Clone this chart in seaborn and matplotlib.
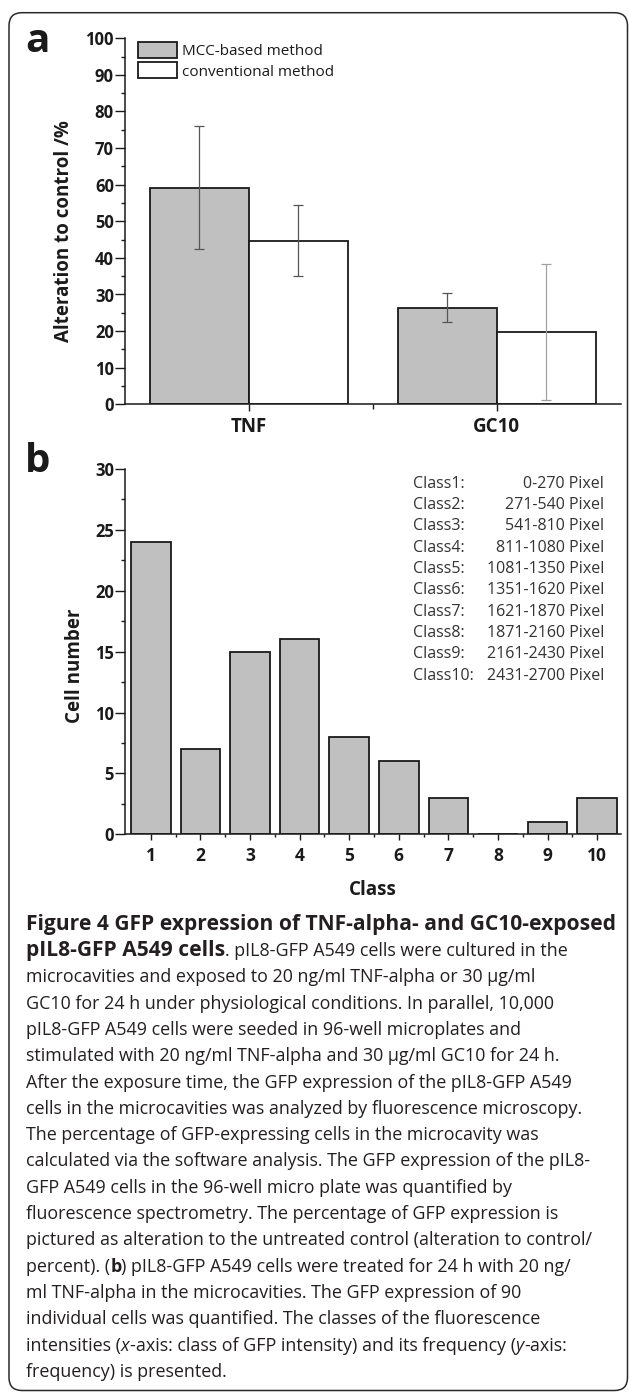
import matplotlib
matplotlib.use("Agg")
import matplotlib.pyplot as plt
from matplotlib.patches import FancyBboxPatch, Patch, Rectangle
from matplotlib.ticker import MultipleLocator, FixedLocator
import seaborn as sns
import pandas as pd

# Panel a: alteration to control (%)
treatments = ["TNF", "GC10"]
methods = ["MCC-based method", "conventional method"]
mcc_values = [59.2, 26.4]
mcc_errors = [16.8, 4.0]
conv_values = [44.7, 19.8]
conv_errors = [9.7, 18.5]

# Panel b: cell number per intensity class
classes = [1, 2, 3, 4, 5, 6, 7, 8, 9, 10]
cell_counts = [24, 7, 15, 16, 8, 6, 3, 0, 1, 3]
class_ranges = ["0-270", "271-540", "541-810", "811-1080", "1081-1350",
                "1351-1620", "1621-1870", "1871-2160", "2161-2430", "2431-2700"]

# Caption, line by line: (text, (weight, style, size))
N = ("normal", "normal", 12.9)
T = ("bold", "normal", 15.1)   # title in bold
B = ("bold", "normal", 12.9)   # inline bold
I = ("normal", "italic", 12.9)
caption_lines = [
    [("Figure 4 GFP expression of TNF-alpha- and GC10-exposed", T)],
    [("pIL8-GFP A549 cells", T), (". pIL8-GFP A549 cells were cultured in the", N)],
    [("microcavities and exposed to 20 ng/ml TNF-alpha or 30 \u00b5g/ml", N)],
    [("GC10 for 24 h under physiological conditions. In parallel, 10,000", N)],
    [("pIL8-GFP A549 cells were seeded in 96-well microplates and", N)],
    [("stimulated with 20 ng/ml TNF-alpha and 30 \u00b5g/ml GC10 for 24 h.", N)],
    [("After the exposure time, the GFP expression of the pIL8-GFP A549", N)],
    [("cells in the microcavities was analyzed by fluorescence microscopy.", N)],
    [("The percentage of GFP-expressing cells in the microcavity was", N)],
    [("calculated via the software analysis. The GFP expression of the pIL8-", N)],
    [("GFP A549 cells in the 96-well micro plate was quantified by", N)],
    [("fluorescence spectrometry. The percentage of GFP expression is", N)],
    [("pictured as alteration to the untreated control (alteration to control/", N)],
    [("percent). (", N), ("b", B), (") pIL8-GFP A549 cells were treated for 24 h with 20 ng/", N)],
    [("ml TNF-alpha in the microcavities. The GFP expression of 90", N)],
    [("individual cells was quantified. The classes of the fluorescence", N)],
    [("intensities (", N), ("x", I), ("-axis: class of GFP intensity) and its frequency (", N),
     ("y", I), ("-axis:", N)],
    [("frequency) is presented.", N)],
]

bar_colors = ["#c0c0c0", "#ffffff"]
err_colors = [["#555555", "#555555"], ["#555555", "#a0a0a0"]]
INK = "#1a1a1a"

sns.set_style("ticks")
plt.rcParams["font.family"] = ["Open Sans", "DejaVu Sans"]
plt.rcParams["text.color"] = INK
plt.rcParams["axes.edgecolor"] = INK
plt.rcParams["xtick.color"] = INK
plt.rcParams["ytick.color"] = INK

W, H = 629, 1392
fig = plt.figure(figsize=(W / 100, H / 100), dpi=100)


def fx(px):
    return px / W


def fy(py):
    return 1 - py / H


# outer rounded frame
frame = FancyBboxPatch((0.09, 0.015), 6.185, 13.778,
                       boxstyle="round,pad=0,rounding_size=0.13",
                       transform=fig.dpi_scale_trans, facecolor="none",
                       edgecolor="#2a2a2a", linewidth=1.1)
fig.add_artist(frame)

# ---------------- panel a ----------------
ax_a = fig.add_axes([fx(125), fy(404.3), fx(620.5) - fx(125), (404.3 - 38.3) / H])

df_a = pd.DataFrame({
    "treatment": treatments * 2,
    "method": [methods[0]] * 2 + [methods[1]] * 2,
    "value": mcc_values + conv_values,
})
sns.barplot(data=df_a, x="treatment", y="value", hue="method",
            order=treatments, hue_order=methods, palette=bar_colors,
            saturation=1, edgecolor=INK, linewidth=1.3, width=0.8,
            errorbar=None, legend=False, ax=ax_a)

# bars sorted left to right: TNF-MCC, TNF-conv, GC10-MCC, GC10-conv
bars = sorted([p for p in ax_a.patches if isinstance(p, Rectangle)], key=lambda p: p.get_x())
values = [mcc_values, conv_values]
errors = [mcc_errors, conv_errors]
for t in range(len(treatments)):
    for m in range(len(methods)):
        bar = bars[t * len(methods) + m]
        xc = bar.get_x() + bar.get_width() / 2
        ax_a.errorbar(xc, values[m][t], yerr=errors[m][t], fmt="none",
                      ecolor=err_colors[m][t], elinewidth=0.9,
                      capsize=3.5, capthick=0.9, zorder=3)

handles = [Patch(facecolor=c, edgecolor=INK, linewidth=1.3) for c in bar_colors]
ax_a.legend(handles, methods, loc="upper left", bbox_to_anchor=(0.026, 0.991),
            frameon=False, fontsize=11, borderpad=0, borderaxespad=0,
            handlelength=2.55, handleheight=1.24, labelspacing=0.24,
            handletextpad=0.35)

ax_a.set_xlim(-0.5, 1.5)
ax_a.set_ylim(0, 100)
ax_a.yaxis.set_major_locator(MultipleLocator(10))
ax_a.yaxis.set_minor_locator(MultipleLocator(5))
ax_a.xaxis.set_minor_locator(FixedLocator([0.5]))
ax_a.set_xlabel("")
ax_a.set_ylabel("")
sns.despine(ax=ax_a)
for sp in ax_a.spines.values():
    sp.set_linewidth(1.1)
ax_a.tick_params(axis="y", which="major", length=7, width=1.0, pad=1, labelsize=12)
ax_a.tick_params(axis="y", which="minor", length=3, width=1.0)
ax_a.tick_params(axis="x", which="major", length=5, width=1.0, pad=4.5, labelsize=13.5)
ax_a.tick_params(axis="x", which="minor", length=3.5, width=1.0)
for lab in ax_a.get_xticklabels() + ax_a.get_yticklabels():
    lab.set_fontweight("bold")

fig.text(fx(64), fy(230.8), "Alteration to control /%", rotation=90,
         ha="center", va="center", fontsize=13.5, fontweight="bold")
fig.text(fx(25), fy(51.7), "a", fontsize=29, fontweight="bold", va="baseline")

# ---------------- panel b ----------------
ax_b = fig.add_axes([fx(125), fy(834.3), fx(620.5) - fx(125), (834.3 - 469) / H])

df_b = pd.DataFrame({"cls": classes, "count": cell_counts})
sns.barplot(data=df_b, x="cls", y="count", color=bar_colors[0], saturation=1,
            edgecolor=INK, linewidth=1.3, width=0.8, errorbar=None, ax=ax_b)

ax_b.set_xlim(-0.52, 9.47)
ax_b.set_ylim(0, 30)
ax_b.yaxis.set_major_locator(MultipleLocator(5))
ax_b.yaxis.set_minor_locator(MultipleLocator(2.5))
ax_b.xaxis.set_minor_locator(FixedLocator([i + 0.5 for i in range(len(classes))]))
ax_b.set_xlabel("")
ax_b.set_ylabel("")
sns.despine(ax=ax_b)
for sp in ax_b.spines.values():
    sp.set_linewidth(1.1)
ax_b.tick_params(axis="y", which="major", length=7, width=1.0, pad=1, labelsize=12)
ax_b.tick_params(axis="y", which="minor", length=3, width=1.0)
ax_b.tick_params(axis="x", which="major", length=4.5, width=1.0, pad=5, labelsize=12.5)
ax_b.tick_params(axis="x", which="minor", length=2.5, width=1.0)
for lab in ax_b.get_xticklabels() + ax_b.get_yticklabels():
    lab.set_fontweight("bold")

# class legend text block
row_top, row_bottom = 482.3, 674.3
step = (row_bottom - row_top) / (len(classes) - 1)
for i, (c, r) in enumerate(zip(classes, class_ranges)):
    yb = fy(row_top + i * step + 5.5)
    fig.text(fx(413.3), yb, f"Class{c}:", fontsize=11.5, va="baseline",
             ha="left", color="#333333")
    fig.text(fx(604), yb, f"{r} Pixel", fontsize=11.5, va="baseline",
             ha="right", color="#333333")

fig.text(fx(75), fy(666), "Cell number", rotation=90, ha="center",
         va="center", fontsize=13.5, fontweight="bold")
fig.text(fx(372.8), fy(890), "Class", ha="center", va="center",
         fontsize=13.5, fontweight="bold")
fig.text(fx(25), fy(471.7), "b", fontsize=29, fontweight="bold", va="baseline")

# ---------------- caption ----------------
renderer = fig.canvas.get_renderer()
for k, parts in enumerate(caption_lines):
    x_px = 26
    y = fy(923.3 + k * 26.3 + 6.5)
    for text, (weight, style, size) in parts:
        t = fig.text(fx(x_px), y, text, fontsize=size, fontweight=weight,
                     fontstyle=style, va="baseline", ha="left", color="#231f20")
        x_px = t.get_window_extent(renderer).x1

fig.savefig("out.png", dpi=100)
